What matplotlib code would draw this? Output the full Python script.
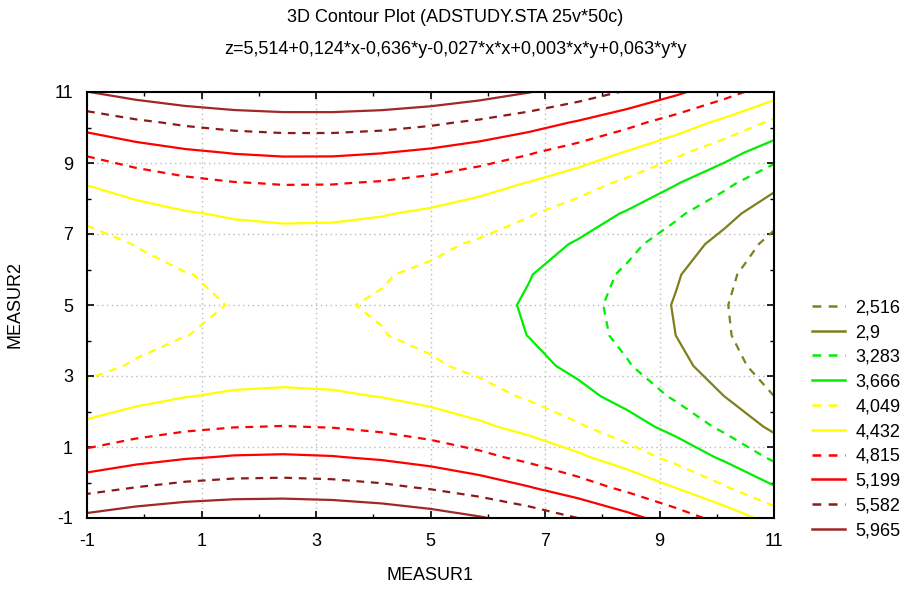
import numpy as np
import matplotlib
matplotlib.use("Agg")
import matplotlib.pyplot as plt
from matplotlib.lines import Line2D

# Surface coefficients (from title): z = c0 + cx*x + cy*y + cxx*x*x + cxy*x*y + cyy*y*y
coef_names = ["c0", "cx", "cy", "cxx", "cxy", "cyy"]
coef_values = [5.514, 0.124, -0.636, -0.027, 0.003, 0.063]

levels = [2.516, 2.9, 3.283, 3.666, 4.049, 4.432, 4.815, 5.199, 5.582, 5.965]
level_labels = ["2,516", "2,9", "3,283", "3,666", "4,049", "4,432", "4,815", "5,199", "5,582", "5,965"]
level_colors = ["#7f7f1f", "#7f7f1f", "#00ee00", "#00ee00", "#ffff00", "#ffff00",
                "#ff0000", "#ff0000", "#8b1a1a", "#a02828"]
level_styles = ["--", "-", "--", "-", "--", "-", "--", "-", "--", "-"]

x_ticks = [-1, 1, 3, 5, 7, 9, 11]
y_ticks = [-1, 1, 3, 5, 7, 9, 11]
x_range = [-1, 11]
y_range = [-1, 11]
grid_n = 15

plt.rcParams['font.family'] = ['Liberation Sans', 'DejaVu Sans']

fig = plt.figure(figsize=(9.11, 5.89), dpi=100)
ax = fig.add_axes([87/911, 1-518/589, (774-87)/911, (518-92)/589])

c = dict(zip(coef_names, coef_values))
xs = np.linspace(x_range[0], x_range[1], grid_n)
ys = np.linspace(y_range[0], y_range[1], grid_n)
X, Y = np.meshgrid(xs, ys)
Z = (c["c0"] + c["cx"]*X + c["cy"]*Y + c["cxx"]*X*X + c["cxy"]*X*Y + c["cyy"]*Y*Y)

dash = (0, (3.5, 3))
for lev, col, ls in zip(levels, level_colors, level_styles):
    ax.contour(X, Y, Z, levels=[lev], colors=[col], linewidths=1.6,
               linestyles=[dash if ls == "--" else "solid"])

ax.set_xlim(*x_range)
ax.set_ylim(*y_range)
ax.set_xticks(x_ticks)
ax.set_yticks(y_ticks)
ax.set_xticklabels([str(t) for t in x_ticks], fontsize=13)
ax.set_yticklabels([str(t) for t in y_ticks], fontsize=13)
ax.set_xticks(np.arange(0, 11, 2), minor=True)
ax.set_yticks(np.arange(0, 11, 2), minor=True)
ax.tick_params(which='both', direction='in', top=True, right=True, color='black')
ax.tick_params(which='major', length=5, width=1.2)
ax.tick_params(axis='x', which='major', pad=11)
ax.tick_params(axis='y', which='major', pad=10)
ax.tick_params(which='minor', length=3, width=1.0)
ax.grid(True, which='major', color='#bbbbbb', linestyle=(0, (1, 2.5)), linewidth=1.0)
for s in ax.spines.values():
    s.set_linewidth(1.5)

ax.set_xlabel("MEASUR1", fontsize=13, labelpad=12)
ax.set_ylabel("MEASUR2", fontsize=13, labelpad=22)

fig.text(0.5, 1-18/589, "3D Contour Plot (ADSTUDY.STA 25v*50c)", ha='center', va='center', fontsize=13)
fig.text(0.5, 1-50/589, "z=5,514+0,124*x-0,636*y-0,027*x*x+0,003*x*y+0,063*y*y",
         ha='center', va='center', fontsize=13)

handles = [Line2D([0], [0], color=col, lw=1.8, linestyle=(dash if ls == "--" else "solid"))
           for col, ls in zip(level_colors, level_styles)]
fig.legend(handles, level_labels, loc='upper left', bbox_to_anchor=(796/911, 1-283/589),
           frameon=False, fontsize=13, handlelength=1.8, labelspacing=0.43, handletextpad=0.6)

fig.savefig("out.png", dpi=100)
